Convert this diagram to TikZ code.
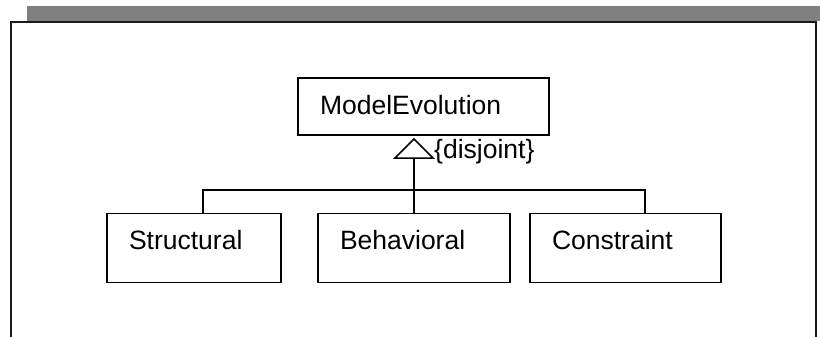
\documentclass[tikz,border=0pt]{standalone}
\usepackage{fontspec}
\setmainfont{Liberation Sans}
\usetikzlibrary{calc}
\begin{document}
\begin{tikzpicture}[x=1pt,y=-1pt,
  classbox/.style={draw=black, line width=1.5pt, anchor=north west,
    inner xsep=22pt, inner ysep=0pt, outer sep=0pt, align=left,
    text height=36pt, font=\fontsize{26.5}{30}\selectfont},
  link/.style={draw=black, line width=1.5pt},
  frameline/.style={draw=black!90, line width=2pt}]
  \useasboundingbox (0,0) rectangle (820,337);

  % header bar and the open frame below it
  \fill[black!50] (27,6) rectangle (820,21);
  \draw[frameline] (11,337) -- (11,22) -- (816,22) -- (816,337);

  % classes
  \node[classbox, text width=207pt, text depth=21pt] (ME) at (298,78) {ModelEvolution};
  \node[classbox, text width=130pt, text depth=33pt] (S) at (107,213.5) {Structural};
  \node[classbox, text width=148pt, text depth=33pt] (B) at (318,213.5) {Behavioral};
  \node[classbox, text width=147pt, text depth=33pt] (C) at (530,213.5) {Constraint};

  % generalization: hollow triangle under the parent, tree to the children
  \coordinate (apex) at ($(B.north |- ME.south)+(0,4)$);
  \coordinate (base) at ($(apex)+(0,19)$);
  \draw[link, line join=miter] (apex) -- ($(base)+(-19,0)$) -- ($(base)+(19,0)$) -- cycle;
  \coordinate (sTop) at ($(S.north west)+(96,0)$);
  \coordinate (cTop) at ($(C.north west)+(115,0)$);
  \coordinate (bus) at ($(B.north)+(0,-23.5)$);
  \draw[link] (B.north) -- (base);
  \draw[link] (sTop) |- (bus) -| (cTop);

  \node[anchor=base west, inner sep=0pt, font=\fontsize{26.5}{30}\selectfont] (dj)
    at ($(base)+(20,0)$) {\{disjoint\}};
\end{tikzpicture}
\end{document}
